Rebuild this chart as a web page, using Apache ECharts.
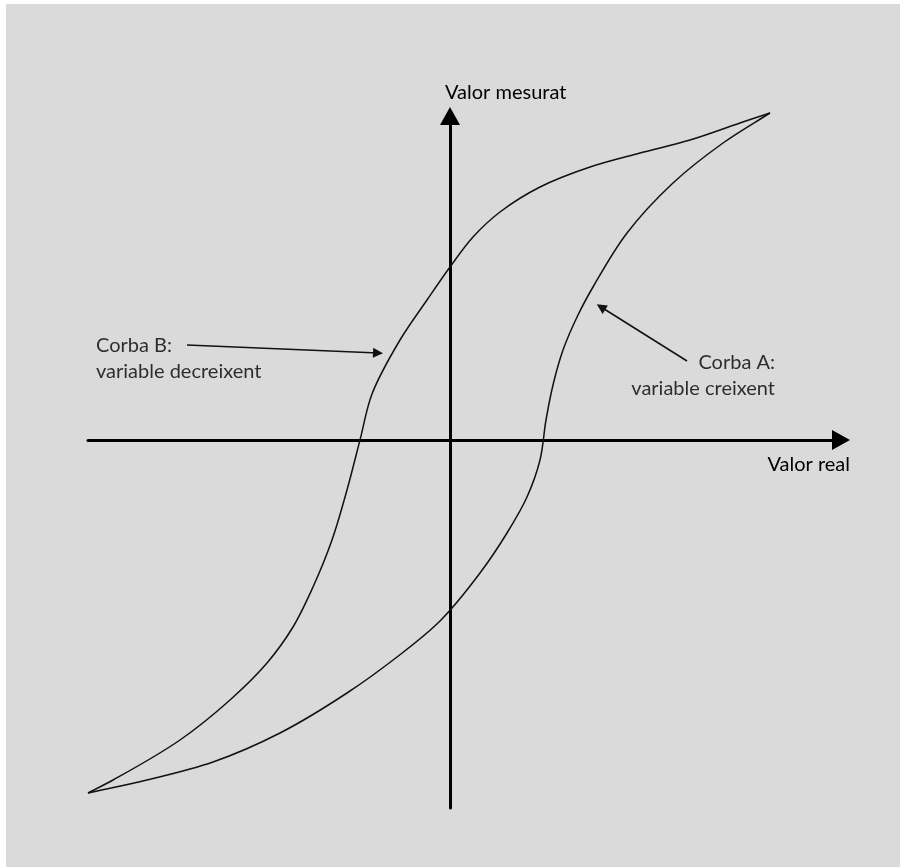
<!DOCTYPE html>
<html><head><meta charset="utf-8">
<script src="https://cdn.jsdelivr.net/npm/echarts@6/dist/echarts.min.js"></script>
<style>
html,body{margin:0;padding:0;background:#fff;}
#chart{position:absolute;left:6px;top:4px;width:894px;height:863px;}
</style></head><body><div id="chart"></div>
<script>
// Axis extents (value units)
const xRange = [-362, 391];
const yRange = [-368, 324];
// Curve A: variable creixent (lower/right branch)
const curveA = [[-362,-353],[-303,-340],[-237,-322],[-170,-293],[-103,-253],[-53,-217],[-10,-181],[30,-133],[57,-93],[77,-57],[90,-20],[96,20],[103,55],[113,90],[128,125],[143,153],[177,207],[223,257],[273,297],[320,327]];
// Curve B: variable decreixent (upper/left branch)
const curveB = [[-362,-353],[-337,-340],[-270,-300],[-220,-260],[-183,-223],[-157,-187],[-137,-147],[-118,-100],[-103,-50],[-90,0],[-78,46],[-50,100],[-23,140],[0,173],[23,203],[50,228],[90,253],[140,273],[190,287],[240,300],[290,317],[320,327]];
// Annotation arrows [tail, head]
const arrowA = [[237,79],[151,133]];
const arrowB = [[-263,95],[-72,87]];
// Texts
const axisTitles = ['Valor real', 'Valor mesurat'];
const noteTexts = ['Corba A:\nvariable creixent', 'Corba B:\nvariable decreixent'];
const noteAnchors = [[325,90],[-354,107]];

const FONT = 'Lato';
const TXT = '#000';

// Smooth curve through the data points (chord-scaled Hermite), positioned via the axes' scales
function splineRenderer(points) {
  return function (params, api) {
    if (params.dataIndex !== 0) return null;
    const p = points.map(v => api.coord(v));
    const n = p.length;
    const unit = (a, b) => { const dx = b[0] - a[0], dy = b[1] - a[1]; const l = Math.hypot(dx, dy) || 1; return [dx / l, dy / l]; };
    const tan = p.map((pt, i) => {
      if (i === 0) return unit(p[0], p[1]);
      if (i === n - 1) return unit(p[n - 2], p[n - 1]);
      const u1 = unit(p[i - 1], p[i]), u2 = unit(p[i], p[i + 1]);
      const s = [u1[0] + u2[0], u1[1] + u2[1]]; const l = Math.hypot(s[0], s[1]) || 1;
      return [s[0] / l, s[1] / l];
    });
    let d = 'M' + p[0][0] + ' ' + p[0][1];
    for (let i = 0; i < n - 1; i++) {
      const L = Math.hypot(p[i + 1][0] - p[i][0], p[i + 1][1] - p[i][1]) / 3;
      const c1 = [p[i][0] + tan[i][0] * L, p[i][1] + tan[i][1] * L];
      const c2 = [p[i + 1][0] - tan[i + 1][0] * L, p[i + 1][1] - tan[i + 1][1] * L];
      d += ' C' + c1[0] + ' ' + c1[1] + ' ' + c2[0] + ' ' + c2[1] + ' ' + p[i + 1][0] + ' ' + p[i + 1][1];
    }
    return {type:'path', shape:{pathData:d}, style:{fill:'none', stroke:'#111', lineWidth:1.5}};
  };
}

const chart = echarts.init(document.getElementById('chart'), null, {renderer:'canvas'});
const axisCommon = {
  type:'value',
  axisTick:{show:false}, axisLabel:{show:false}, splitLine:{show:false},
  axisLine:{show:true, onZero:true, symbol:['none','triangle'], symbolSize:[20,18], lineStyle:{color:'#000', width:3}}
};
chart.setOption({
  animation:false,
  backgroundColor:'#dadada',
  grid:{left:82, right:59, top:112, bottom:59, containLabel:false},
  xAxis:Object.assign({}, axisCommon, {
    min:xRange[0], max:xRange[1],
    name:axisTitles[0], nameLocation:'end', nameGap:9,
    nameTextStyle:{fontFamily:FONT, fontSize:20, color:TXT, align:'right', verticalAlign:'top', padding:[15,0,0,0]}
  }),
  yAxis:Object.assign({}, axisCommon, {
    min:yRange[0], max:yRange[1],
    name:axisTitles[1], nameLocation:'end', nameGap:13,
    nameTextStyle:{fontFamily:FONT, fontSize:20, color:TXT, align:'left', verticalAlign:'bottom', padding:[0,0,0,-5]}
  }),
  series:[
    {type:'custom', name:'Corba A', data:curveA, renderItem:splineRenderer(curveA), clip:false, silent:true},
    {type:'custom', name:'Corba B', data:curveB, renderItem:splineRenderer(curveB), clip:false, silent:true},
    {type:'lines', coordinateSystem:'cartesian2d', symbol:['none','triangle'], symbolSize:10,
     lineStyle:{color:'#111', width:1.5, opacity:1},
     data:[{coords:arrowA},{coords:arrowB}]},
    {type:'scatter', symbolSize:1, itemStyle:{color:'rgba(0,0,0,0)'}, silent:true,
     data:[
       {value:noteAnchors[0], label:{show:true, formatter:noteTexts[0], position:'inside', align:'right', verticalAlign:'top', fontFamily:FONT, fontSize:20, lineHeight:26, color:TXT}},
       {value:noteAnchors[1], label:{show:true, formatter:noteTexts[1], position:'inside', align:'left', verticalAlign:'top', fontFamily:FONT, fontSize:20, lineHeight:26, color:TXT}}
     ]}
  ]
});
</script></body></html>
